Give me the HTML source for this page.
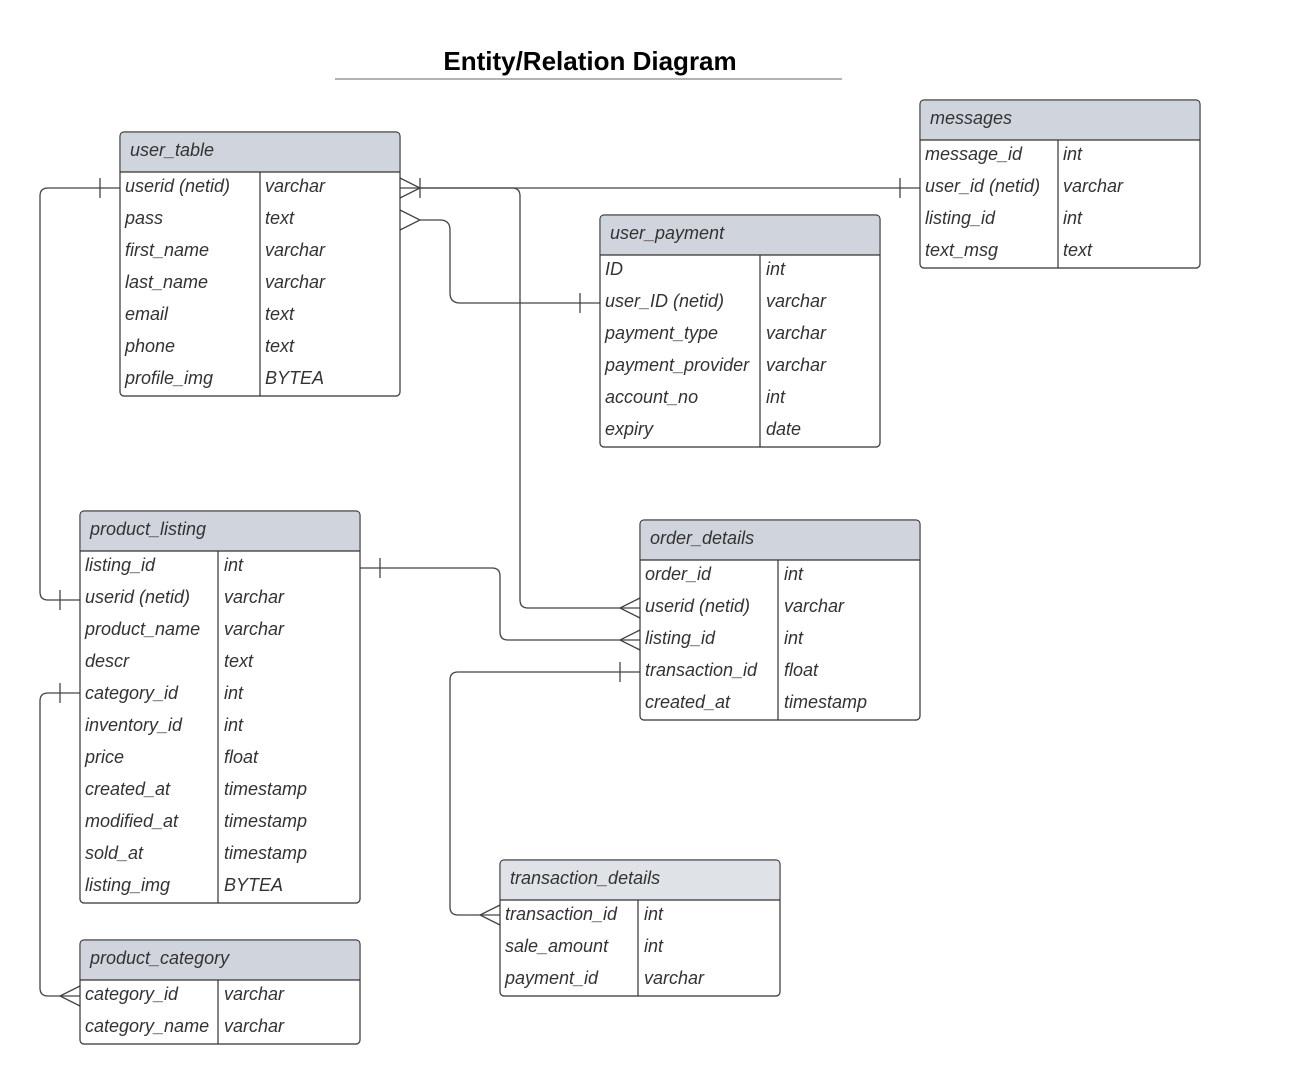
<!DOCTYPE html>
<html><head><meta charset="utf-8"><style>
body{margin:0;background:#fff;}
svg{display:block;}
text{font-family:"Liberation Sans",sans-serif;}
.t{font-size:18px;font-style:italic;fill:#333;}
.h{font-size:18px;font-style:italic;fill:#333;}
.box{fill:#fff;stroke:#333;stroke-width:1.2;}
.hd{fill:#d0d5dd;}
.ln{stroke:#333;stroke-width:1.2;fill:none;}
.c{stroke:#444;stroke-width:1.3;fill:none;}
</style></head><body>
<svg width="1300" height="1084" viewBox="0 0 1300 1084">
<text x="590" y="70" text-anchor="middle" style="font-size:26px;font-weight:bold;fill:#000">Entity/Relation Diagram</text>
<line x1="335" y1="79" x2="842" y2="79" stroke="#999" stroke-width="1.5"/>

<path class="c" d="M120 188 H48 Q40 188 40 196 V592 Q40 600 48 600 H80"/>
<line class="c" x1="100" y1="178" x2="100" y2="198"/>
<line class="c" x1="60" y1="590" x2="60" y2="610"/>
<path class="c" d="M400 188 H920"/>
<path class="c" d="M400 178 L420 188 L400 198"/>
<line class="c" x1="420" y1="178" x2="420" y2="198"/>
<line class="c" x1="900" y1="178" x2="900" y2="198"/>
<path class="c" d="M420 188 H512 Q520 188 520 196 V600 Q520 608 528 608 H640"/>
<path class="c" d="M640 598 L620 608 L640 618"/>
<path class="c" d="M400 210 L420 220 L400 230"/>
<path class="c" d="M420 220 H440 Q450 220 450 230 V293 Q450 303 460 303 H600"/>
<line class="c" x1="580" y1="293" x2="580" y2="313"/>
<path class="c" d="M360 568 H492 Q500 568 500 576 V632 Q500 640 508 640 H640"/>
<line class="c" x1="380" y1="558" x2="380" y2="578"/>
<path class="c" d="M640 630 L620 640 L640 650"/>
<path class="c" d="M640 672 H458 Q450 672 450 680 V907 Q450 915 458 915 H500"/>
<line class="c" x1="620" y1="662" x2="620" y2="682"/>
<path class="c" d="M500 905 L480 915 L500 925"/>
<path class="c" d="M80 693 H48 Q40 693 40 701 V988 Q40 996 48 996 H80"/>
<line class="c" x1="60" y1="683" x2="60" y2="703"/>
<path class="c" d="M80 986 L60 996 L80 1006"/>

<g>
<rect class="box" x="120" y="132" width="280" height="264" rx="4"/>
<path class="hd" d="M124 132.6 H396 Q399.4 132.6 399.4 136 V172 H120.6 V136 Q120.6 132.6 124 132.6Z"/>
<line class="ln" x1="120" y1="172" x2="400" y2="172"/>
<line class="ln" x1="260" y1="172" x2="260" y2="396"/>
<text class="h" x="130" y="156">user_table</text>
<text class="t" x="125" y="192">userid (netid)</text><text class="t" x="265" y="192">varchar</text>
<text class="t" x="125" y="224">pass</text><text class="t" x="265" y="224">text</text>
<text class="t" x="125" y="256">first_name</text><text class="t" x="265" y="256">varchar</text>
<text class="t" x="125" y="288">last_name</text><text class="t" x="265" y="288">varchar</text>
<text class="t" x="125" y="320">email</text><text class="t" x="265" y="320">text</text>
<text class="t" x="125" y="352">phone</text><text class="t" x="265" y="352">text</text>
<text class="t" x="125" y="384">profile_img</text><text class="t" x="265" y="384">BYTEA</text>
</g>

<g>
<rect class="box" x="920" y="100" width="280" height="168" rx="4"/>
<path class="hd" d="M924 100.6 H1196 Q1199.4 100.6 1199.4 104 V140 H920.6 V104 Q920.6 100.6 924 100.6Z"/>
<line class="ln" x1="920" y1="140" x2="1200" y2="140"/>
<line class="ln" x1="1058" y1="140" x2="1058" y2="268"/>
<text class="h" x="930" y="124">messages</text>
<text class="t" x="925" y="160">message_id</text><text class="t" x="1063" y="160">int</text>
<text class="t" x="925" y="192">user_id (netid)</text><text class="t" x="1063" y="192">varchar</text>
<text class="t" x="925" y="224">listing_id</text><text class="t" x="1063" y="224">int</text>
<text class="t" x="925" y="256">text_msg</text><text class="t" x="1063" y="256">text</text>
</g>

<g>
<rect class="box" x="600" y="215" width="280" height="232" rx="4"/>
<path class="hd" d="M604 215.6 H876 Q879.4 215.6 879.4 219 V255 H600.6 V219 Q600.6 215.6 604 215.6Z"/>
<line class="ln" x1="600" y1="255" x2="880" y2="255"/>
<line class="ln" x1="760" y1="255" x2="760" y2="447"/>
<text class="h" x="610" y="239">user_payment</text>
<text class="t" x="605" y="275">ID</text><text class="t" x="766" y="275">int</text>
<text class="t" x="605" y="307">user_ID (netid)</text><text class="t" x="766" y="307">varchar</text>
<text class="t" x="605" y="339">payment_type</text><text class="t" x="766" y="339">varchar</text>
<text class="t" x="605" y="371">payment_provider</text><text class="t" x="766" y="371">varchar</text>
<text class="t" x="605" y="403">account_no</text><text class="t" x="766" y="403">int</text>
<text class="t" x="605" y="435">expiry</text><text class="t" x="766" y="435">date</text>
</g>

<g>
<rect class="box" x="80" y="511" width="280" height="392" rx="4"/>
<path class="hd" d="M84 511.6 H356 Q359.4 511.6 359.4 515 V551 H80.6 V515 Q80.6 511.6 84 511.6Z"/>
<line class="ln" x1="80" y1="551" x2="360" y2="551"/>
<line class="ln" x1="218" y1="551" x2="218" y2="903"/>
<text class="h" x="90" y="535">product_listing</text>
<text class="t" x="85" y="571">listing_id</text><text class="t" x="224" y="571">int</text>
<text class="t" x="85" y="603">userid (netid)</text><text class="t" x="224" y="603">varchar</text>
<text class="t" x="85" y="635">product_name</text><text class="t" x="224" y="635">varchar</text>
<text class="t" x="85" y="667">descr</text><text class="t" x="224" y="667">text</text>
<text class="t" x="85" y="699">category_id</text><text class="t" x="224" y="699">int</text>
<text class="t" x="85" y="731">inventory_id</text><text class="t" x="224" y="731">int</text>
<text class="t" x="85" y="763">price</text><text class="t" x="224" y="763">float</text>
<text class="t" x="85" y="795">created_at</text><text class="t" x="224" y="795">timestamp</text>
<text class="t" x="85" y="827">modified_at</text><text class="t" x="224" y="827">timestamp</text>
<text class="t" x="85" y="859">sold_at</text><text class="t" x="224" y="859">timestamp</text>
<text class="t" x="85" y="891">listing_img</text><text class="t" x="224" y="891">BYTEA</text>
</g>

<g>
<rect class="box" x="640" y="520" width="280" height="200" rx="4"/>
<path class="hd" d="M644 520.6 H916 Q919.4 520.6 919.4 524 V560 H640.6 V524 Q640.6 520.6 644 520.6Z"/>
<line class="ln" x1="640" y1="560" x2="920" y2="560"/>
<line class="ln" x1="778" y1="560" x2="778" y2="720"/>
<text class="h" x="650" y="544">order_details</text>
<text class="t" x="645" y="580">order_id</text><text class="t" x="784" y="580">int</text>
<text class="t" x="645" y="612">userid (netid)</text><text class="t" x="784" y="612">varchar</text>
<text class="t" x="645" y="644">listing_id</text><text class="t" x="784" y="644">int</text>
<text class="t" x="645" y="676">transaction_id</text><text class="t" x="784" y="676">float</text>
<text class="t" x="645" y="708">created_at</text><text class="t" x="784" y="708">timestamp</text>
</g>

<g>
<rect class="box" x="500" y="860" width="280" height="136" rx="4"/>
<path d="M504 860.6 H776 Q779.4 860.6 779.4 864 V900 H500.6 V864 Q500.6 860.6 504 860.6Z" fill="#dfe2e7"/>
<line class="ln" x1="500" y1="900" x2="780" y2="900"/>
<line class="ln" x1="638" y1="900" x2="638" y2="996"/>
<text class="h" x="510" y="884">transaction_details</text>
<text class="t" x="505" y="920">transaction_id</text><text class="t" x="644" y="920">int</text>
<text class="t" x="505" y="952">sale_amount</text><text class="t" x="644" y="952">int</text>
<text class="t" x="505" y="984">payment_id</text><text class="t" x="644" y="984">varchar</text>
</g>

<g>
<rect class="box" x="80" y="940" width="280" height="104" rx="4"/>
<path class="hd" d="M84 940.6 H356 Q359.4 940.6 359.4 944 V980 H80.6 V944 Q80.6 940.6 84 940.6Z"/>
<line class="ln" x1="80" y1="980" x2="360" y2="980"/>
<line class="ln" x1="218" y1="980" x2="218" y2="1044"/>
<text class="h" x="90" y="964">product_category</text>
<text class="t" x="85" y="1000">category_id</text><text class="t" x="224" y="1000">varchar</text>
<text class="t" x="85" y="1032">category_name</text><text class="t" x="224" y="1032">varchar</text>
</g>
</svg>
</body></html>
